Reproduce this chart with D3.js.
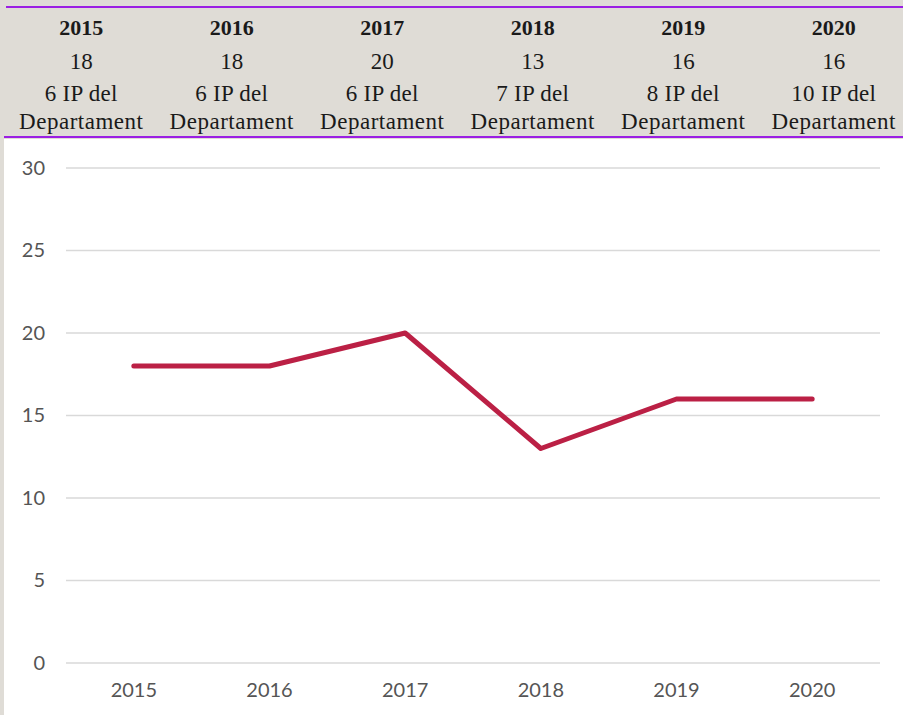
<!DOCTYPE html>
<html>
<head>
<meta charset="utf-8">
<script src="https://cdn.jsdelivr.net/npm/d3@7"></script>
<style>
  html, body { margin: 0; padding: 0; background: #dfdcd6; }
  svg { display: block; }
</style>
</head>
<body>
<svg id="chart" width="903" height="715"></svg>
<script>
var years = ['2015', '2016', '2017', '2018', '2019', '2020']
var values = [18, 18, 20, 13, 16, 16]
var ipCounts = [6, 6, 6, 7, 8, 10]
var yTicks = [0, 5, 10, 15, 20, 25, 30]

var svg = d3.select('#chart')
var width = +svg.attr('width')
var height = +svg.attr('height')

// header table
var head = { left: 6, right: 909, top: 7, bottom: 137 }

var xHead = d3.scaleBand()
  .domain(years)
  .range([head.left, head.right])

svg.append('rect')
  .attr('x', 4).attr('y', 139)
  .attr('width', width - 4).attr('height', height - 139)
  .attr('fill', '#ffffff')

svg.append('line')
  .attr('x1', head.left).attr('x2', width)
  .attr('y1', head.top).attr('y2', head.top)
  .attr('stroke', '#9b1fe3').attr('stroke-width', 2)

svg.append('line')
  .attr('x1', 4).attr('x2', width)
  .attr('y1', head.bottom).attr('y2', head.bottom)
  .attr('stroke', '#9b1fe3').attr('stroke-width', 2)

var cols = svg.append('g')
  .attr('class', 'header')
  .selectAll('g')
  .data(years).enter().append('g')
  .attr('transform', function (d) {
    return 'translate(' + (xHead(d) + xHead.bandwidth() / 2) + ',0)'
  })
  .attr('font-family', '"Liberation Serif", serif')
  .attr('text-anchor', 'middle')
  .attr('fill', '#1a1a1a')

cols.append('text')
  .attr('y', 35)
  .attr('font-size', 22)
  .attr('font-weight', 'bold')
  .text(function (d) { return d })

cols.append('text')
  .attr('y', 69)
  .attr('font-size', 23)
  .text(function (d, i) { return values[i] })

cols.append('text')
  .attr('y', 101)
  .attr('font-size', 23)
  .attr('letter-spacing', 0.3)
  .text(function (d, i) { return ipCounts[i] + ' IP del' })

cols.append('text')
  .attr('y', 129)
  .attr('font-size', 23)
  .attr('letter-spacing', 0.5)
  .text('Departament')

// chart
var margin = { top: 168, left: 66, right: 23, bottom: 52 }

var x = d3.scaleBand()
  .domain(years)
  .range([margin.left, width - margin.right])

var y = d3.scaleLinear()
  .domain([0, 30])
  .range([height - margin.bottom, margin.top])

var gGrid = svg.append('g').attr('class', 'grid')
gGrid.selectAll('line')
  .data(yTicks).enter().append('line')
  .attr('x1', margin.left)
  .attr('x2', width - margin.right)
  .attr('y1', function (d) { return y(d) })
  .attr('y2', function (d) { return y(d) })
  .attr('stroke', '#d9d9d9')
  .attr('stroke-width', 1.5)

var gYaxis = svg.append('g')
  .attr('class', 'y axis')
  .attr('transform', 'translate(45,0)')
  .call(d3.axisLeft(y).tickValues(yTicks).tickSize(0).tickPadding(0))

var gXaxis = svg.append('g')
  .attr('class', 'x axis')
  .attr('transform', 'translate(0,' + (height - margin.bottom) + ')')
  .call(d3.axisBottom(x).tickSize(0).tickPadding(20))

svg.selectAll('.axis .domain').remove()
svg.selectAll('.axis text')
  .attr('font-family', 'Lato, sans-serif')
  .attr('font-size', 20)
  .attr('fill', '#555555')
gXaxis.selectAll('text').attr('dy', '0.71em')

var line = d3.line()
  .x(function (d, i) { return x(years[i]) + x.bandwidth() / 2 })
  .y(function (d) { return y(d) })

svg.append('path')
  .datum(values)
  .attr('fill', 'none')
  .attr('stroke', '#bb2045')
  .attr('stroke-width', 5)
  .attr('stroke-linecap', 'round')
  .attr('stroke-linejoin', 'round')
  .attr('d', line)
</script>
</body>
</html>
